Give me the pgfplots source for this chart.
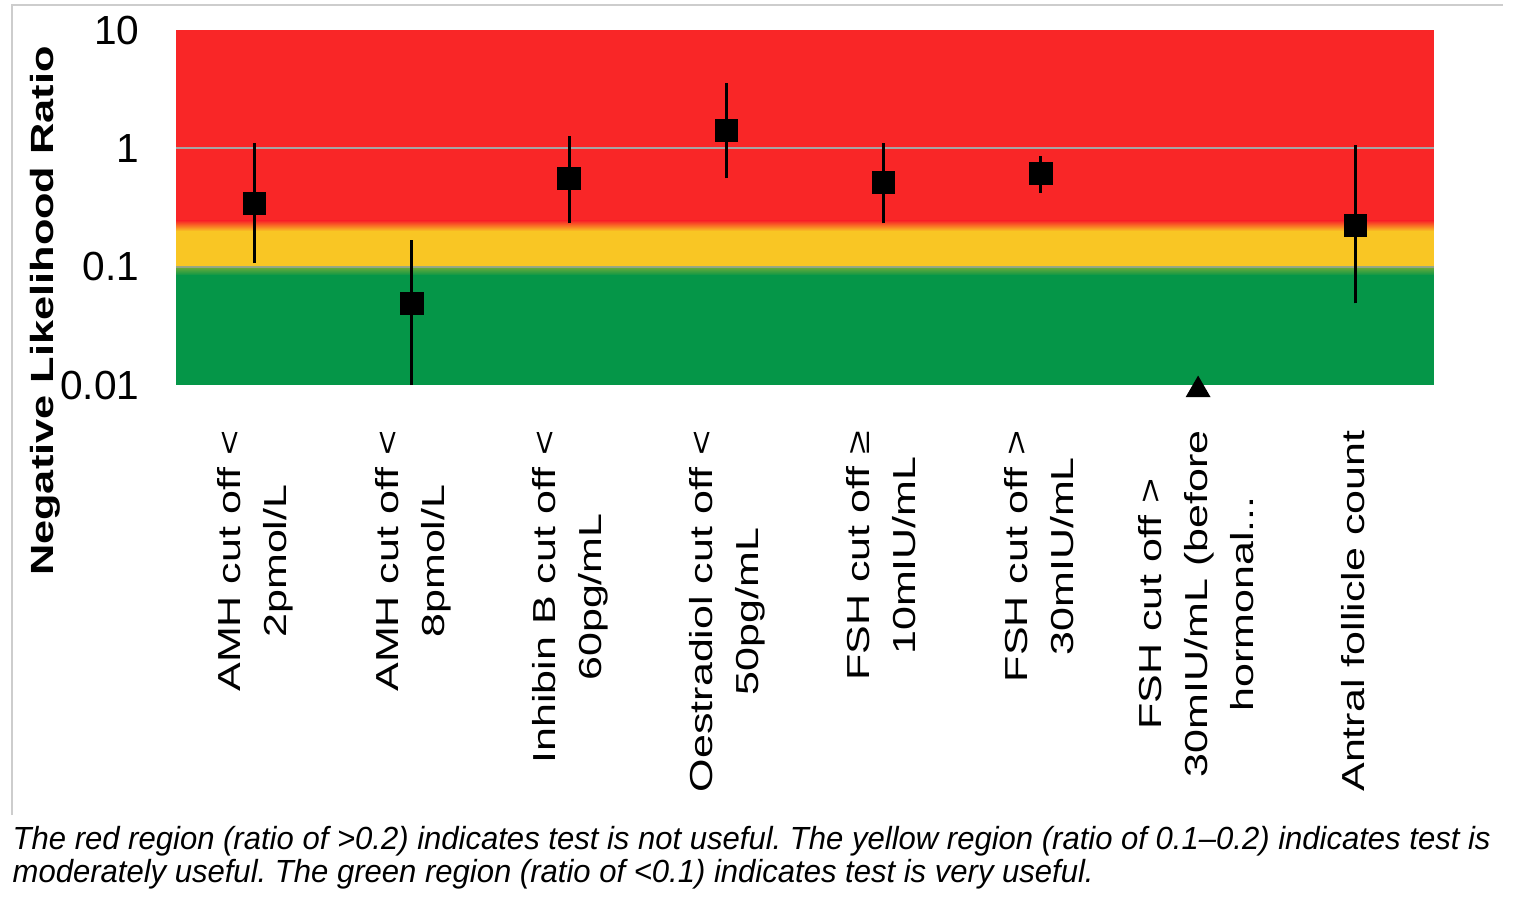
\documentclass[border=0pt]{standalone}
\usepackage{pgfplots}
\pgfplotsset{compat=1.18}
\usepackage{pgfplotstable}
\usepackage{graphicx}
\usepackage{fontspec}
\setmainfont{Liberation Sans}

\definecolor{bandred}{RGB}{249,38,39}
\definecolor{bandyellow}{RGB}{249,198,36}
\definecolor{bandgreen}{RGB}{5,150,72}
\definecolor{gridgray}{RGB}{165,165,165}
\definecolor{framegray}{RGB}{205,205,205}

% point estimates
\pgfplotstableread{
x y
0 0.34
1 0.049
2 0.557
3 1.42
4 0.516
5 0.614
7 0.224
}\points

% confidence intervals, one segment per test
\pgfplotstableread{
x y
0 0.107
0 1.10
nan nan
1 0.0100
1 0.167
nan nan
2 0.232
2 1.26
nan nan
3 0.557
3 3.54
nan nan
4 0.232
4 1.12
nan nan
5 0.42
5 0.87
nan nan
7 0.049
7 1.06
}\whiskers

\newcommand\lbl[1]{\scalebox{1}[0.74]{\begin{tabular}{@{}c@{}}#1\end{tabular}}}
\newcommand\captionfont{\fontsize{9.6}{11.4}\selectfont\itshape\frenchspacing}
\newcommand\capone{The red region (ratio of >0.2) indicates test is not useful. The yellow region (ratio of 0.1–0.2) indicates test is}
\newcommand\captwo{moderately useful. The green region (ratio of <0.1) indicates test is very useful.}
\newlength\capw

\begin{document}%
\settowidth\capw{\captionfont\capone}%
\pgfmathsetmacro\capsc{443.4/\capw}%
\begin{tikzpicture}
\begin{axis}[
    at={(52.8pt,-115.5pt)}, anchor=south west,
    scale only axis,
    width=377.4pt, height=106.5pt,
    ymode=log,
    xmin=-0.5, xmax=7.5,
    ymin=0.01, ymax=10,
    clip=false,
    axis line style={draw=none},
    major tick length=0pt, minor tick length=0pt,
    ytick={0.01,0.1,1,10},
    yticklabels={0.01,0.1,1,10},
    yticklabel style={font=\fontsize{12.2}{14}\selectfont, anchor=east, inner sep=0pt, xshift=-10.8pt},
    xtick={0,...,7},
    xticklabels={
        {\lbl{AMH cut off <\\2pmol/L}},
        {\lbl{AMH cut off <\\8pmol/L}},
        {\lbl{Inhibin B cut off <\\60pg/mL}},
        {\lbl{Oestradiol cut off <\\50pg/mL}},
        {\lbl{FSH cut off ≥\\10mIU/mL}},
        {\lbl{FSH cut off >\\30mIU/mL}},
        {\lbl{FSH cut off >\\30mIU/mL (before\\hormonal...}},
        {\lbl{Antral follicle count}}},
    xticklabel style={font=\fontsize{12.9}{18.7}\selectfont, rotate=90, anchor=east, inner sep=0pt},
    xticklabel shift=13.5pt,
]
% coloured regions
\addplot[draw=none, fill=bandred] coordinates {(-0.5,0.24) (7.5,0.24) (7.5,10) (-0.5,10)} -- cycle;
\addplot[draw=none, top color=bandred, bottom color=bandyellow] coordinates {(-0.5,0.2) (7.5,0.2) (7.5,0.245) (-0.5,0.245)} -- cycle;
\addplot[draw=none, fill=bandyellow] coordinates {(-0.5,0.099) (7.5,0.099) (7.5,0.202) (-0.5,0.202)} -- cycle;
\addplot[draw=none, top color=bandyellow!45!bandgreen, bottom color=bandgreen] coordinates {(-0.5,0.084) (7.5,0.084) (7.5,0.1) (-0.5,0.1)} -- cycle;
\addplot[draw=none, fill=bandgreen] coordinates {(-0.5,0.01) (7.5,0.01) (7.5,0.085) (-0.5,0.085)} -- cycle;
% reference lines
\addplot[gridgray, line width=0.6pt] coordinates {(-0.5,1) (7.5,1)};
\addplot[gridgray, line width=0.6pt, opacity=0.7] coordinates {(-0.5,0.1) (7.5,0.1)};
% intervals and estimates
\addplot[black, line width=0.9pt, unbounded coords=jump] table {\whiskers};
\addplot[only marks, mark=square*, mark size=3.3pt, black,
    mark options={rounded corners=0.7pt}] table {\points};
\addplot[only marks, mark=triangle*, mark size=3.9pt, black] coordinates {(6,0.0091)};
\end{axis}

\begin{scope}[x=0.3pt, y=-0.3pt]
\draw[framegray, line width=0.7pt] (12,815) -- (12,5) -- (1503,5);
\node[rotate=90, anchor=base, inner sep=0pt, font=\fontsize{13}{15}\selectfont\bfseries]
    at (53,311) {\scalebox{1}[0.74]{Negative Likelihood Ratio}};
\node[anchor=base west, inner sep=0pt] at (12,849)
    {\captionfont\scalebox{\capsc}[1]{\capone}};
\node[anchor=base west, inner sep=0pt] at (12,882)
    {\captionfont\scalebox{\capsc}[1]{\captwo}};
\pgfresetboundingbox
\useasboundingbox (0,0) rectangle (1536,907);
\end{scope}
\end{tikzpicture}%
\end{document}
